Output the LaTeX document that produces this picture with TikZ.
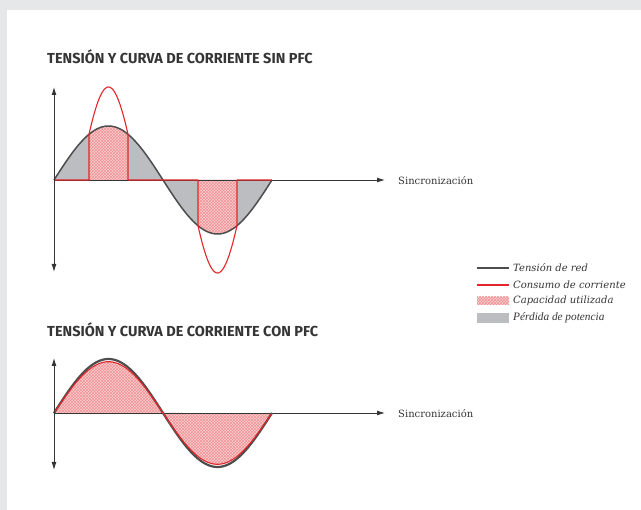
\documentclass[tikz,border=0pt]{standalone}
\usepackage{fontspec}
\setmainfont{DejaVu Serif}
\newfontfamily\titlefont{Fira Sans}
\newfontfamily\lossfont{Liberation Serif}
\usetikzlibrary{arrows.meta,patterns}
\definecolor{bggray}{HTML}{E6E7E9}
\definecolor{lossgray}{HTML}{BCBDC0}
\definecolor{wavegray}{HTML}{4D4D4D}
\definecolor{pfcred}{HTML}{E2262B}
\definecolor{txtgray}{HTML}{353535}
\tikzset{
  axis/.style={draw=txtgray, line width=0.9pt, -{Latex[length=8pt,width=5pt]}},
  dblaxis/.style={draw=txtgray, line width=0.9pt, {Latex[length=8pt,width=5pt]}-{Latex[length=8pt,width=5pt]}},
  wave/.style={draw=wavegray, line width=1.5pt},
  current/.style={draw=pfcred, line width=1.1pt},
  loss/.style={fill=lossgray},
  usedcap/.style={preaction={fill=pfcred!22}, pattern color=pfcred!50, pattern=crosshatch},
  title/.style={anchor=west, inner sep=0pt, text=txtgray, font=\titlefont\bfseries\fontsize{14.5}{16}\selectfont},
  synclabel/.style={anchor=west, inner sep=0pt, text=txtgray, font=\fontsize{10}{12}\selectfont},
  legend/.style={anchor=west, inner sep=0pt, text=txtgray, font=\itshape\fontsize{10}{12}\selectfont},
  declare function={
    sv(\x)=54*sin((\x-54)/218*360);
    pulse(\x,\c)=93*cos(90*(\x-\c)/29);
  }
}
\begin{document}
\begin{tikzpicture}[x=1pt,y=-1pt]
  \useasboundingbox (0,0) rectangle (641,510);
  \fill[bggray] (0,0) rectangle (641,510);
  \fill[white] (7,10) rectangle (641,510);

  % sin PFC
  \node[title] (titlesin) at (47,57) {TENSIÓN Y CURVA DE CORRIENTE SIN PFC};
  \coordinate (osin) at (54,180);
  \fill[loss] (osin) -- plot[domain=54:272,samples=120] (\x,{180-sv(\x)}) -- cycle;
  \fill[usedcap] (89,180) -- plot[domain=89:128,samples=30] (\x,{180-sv(\x)}) -- (128,180) -- cycle;
  \fill[usedcap] (198,180) -- plot[domain=198:237,samples=30] (\x,{180-sv(\x)}) -- (237,180) -- cycle;
  \node[synclabel] (syncsin) at (398,181) {Sincronización};
  \draw[axis] (osin) -- ([xshift=-13pt]syncsin.west |- osin);
  \draw[wave] plot[domain=54:272,samples=120] (\x,{180-sv(\x)});
  \draw[current, line join=round] (osin) -- (89,180) -- plot[domain=89:128,samples=40] (\x,{180-pulse(\x,108.5)})
    -- (128,180) -- (198,180) -- plot[domain=198:237,samples=40] (\x,{180+pulse(\x,217.5)}) -- (237,180) -- (272,180);
  \draw[dblaxis] (54,272) -- (54,87);

  % legend
  \node[legend] (lgwave) at (513,268) {Tensión de red};
  \node[legend] (lgcurrent) at (513,285) {Consumo de corriente};
  \node[legend] (lgcap) at (513,301) {Capacidad utilizada};
  \node[legend, font=\lossfont\itshape\fontsize{11.3}{13}\selectfont] (lgloss) at (513,318) {Pérdida de potencia};
  \draw[wave, line width=1.3pt] ([xshift=-4pt]lgwave.west) -- ++(-32,0);
  \draw[current] ([xshift=-4pt]lgcurrent.west) -- ++(-32,0);
  \fill[usedcap] ([xshift=-4pt,yshift=4pt]lgcap.west) rectangle ++(-32,8);
  \fill[loss] ([xshift=-4pt,yshift=5pt]lgloss.west) rectangle ++(-32,10);

  % con PFC
  \node[title] (titlecon) at (47,330) {TENSIÓN Y CURVA DE CORRIENTE CON PFC};
  \coordinate (ocon) at (54,413);
  \fill[usedcap] (ocon) -- plot[domain=54:272,samples=120] (\x,{413-0.95*sv(\x)}) -- cycle;
  \node[synclabel] (synccon) at (398,414) {Sincronización};
  \draw[axis] (ocon) -- ([xshift=-13pt]synccon.west |- ocon);
  \draw[wave, line width=2.2pt] plot[domain=54:272,samples=120] (\x,{413-sv(\x)});
  \draw[current] plot[domain=54:272,samples=120] (\x,{413-0.95*sv(\x)});
  \draw[dblaxis] (54,470) -- (54,358);
\end{tikzpicture}
\end{document}
